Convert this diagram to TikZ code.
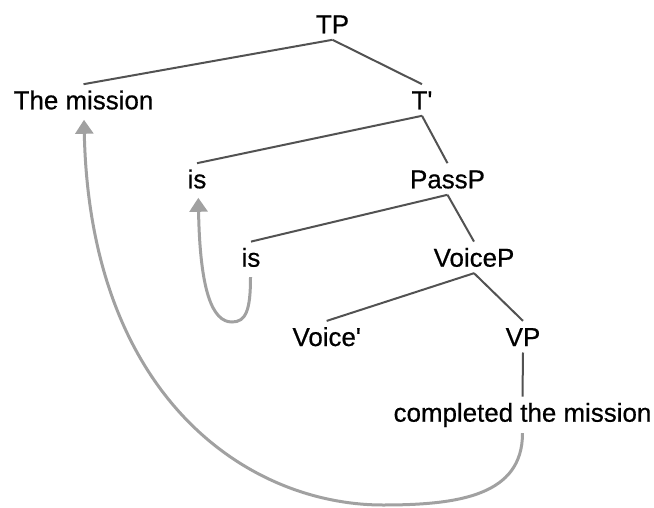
\documentclass[tikz,border=0pt]{standalone}
\usepackage{fontspec}
\setmainfont[FakeBold=0.6]{Liberation Sans}
\usetikzlibrary{arrows.meta,calc}
\begin{document}
\begin{tikzpicture}[x=1bp,y=1bp,
  lbl/.style={anchor=base, inner xsep=0pt, inner ysep=6.3bp, text height=18.6bp, text depth=0pt, font=\fontsize{26}{30}\selectfont},
  edge/.style={draw=black!68, line width=2bp},
  move/.style={draw=black!37, line width=3bp, -{Triangle[length=14bp,width=18bp]}}]
\useasboundingbox (0,0) rectangle (654,-508);
\node[lbl] (tp) at (332.5,-33.3) {TP};
\node[lbl] (tm) at (83.5,-109.3) {The mission};
\node[lbl] (tb) at (422,-109.3) {T\textquotesingle};
\node[lbl] (is1) at (197,-188.3) {is};
\node[lbl] (passp) at (447.5,-188.3) {PassP};
\node[lbl] (is2) at (251,-266.7) {is};
\node[lbl] (voicep) at (474,-266.7) {VoiceP};
\node[lbl] (voiceb) at (326.7,-346) {Voice\textquotesingle};
\node[lbl] (vp) at (523,-346) {VP};
\node[lbl] (ctm) at (522.5,-421.7) {completed the mission};
\draw[edge] (tp.south) -- (tm.north);
\draw[edge] (tp.south) -- (tb.north);
\draw[edge] (tb.south) -- (is1.north);
\draw[edge] (tb.south) -- (passp.north);
\draw[edge] (passp.south) -- (is2.north);
\draw[edge] (passp.south) -- (voicep.north);
\draw[edge] (voicep.south) -- (voiceb.north);
\draw[edge] (voicep.south) -- (vp.north);
\draw[edge] (vp.south) -- (ctm.north);
\coordinate (cstart) at ($(ctm.south)+(0,-5)$);
\coordinate (cbot) at (383,-505);
\coordinate (cend) at ($(tm.south)+(0.5,-4)$);
\draw[move] (cstart) .. controls (522.5,-495) and (460,-505) .. (cbot) .. controls (250,-505) and (90,-400) .. (cend);
\coordinate (sstart) at ($(is2.south)+(-0.5,-4)$);
\coordinate (sbot) at (232,-322);
\coordinate (send) at ($(is1.south)+(1.3,-3)$);
\draw[move] (sstart) .. controls (250.5,-310) and (246,-322) .. (sbot) .. controls (212,-322) and (200,-290) .. (send);
\end{tikzpicture}
\end{document}
